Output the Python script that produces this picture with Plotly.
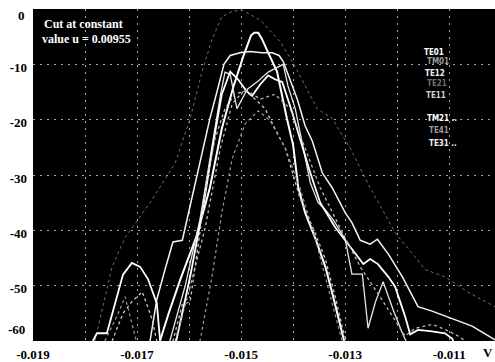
import plotly.graph_objects as go

# Axis ticks
x_tick_vals = [-0.019, -0.018, -0.017, -0.016, -0.015, -0.014, -0.013, -0.012, -0.011, -0.010]
x_tick_text = ["-0.019", "", "-0.017", "", "-0.015", "", "-0.013", "", "-0.011", ""]
y_tick_vals = [0, -10, -20, -30, -40, -50, -60]
y_tick_text = ["", "-10", "-20", "-30", "-40", "-50", ""]
y_top_label = "0"
y_bottom_label = "-60"

# Mode curves (v, dB)
te01_v = [-0.01656, -0.01640, -0.01617, -0.01585, -0.01560, -0.01537, -0.01515, -0.01496, -0.01481,
          -0.01475, -0.01467, -0.01460, -0.01448, -0.01431, -0.01412, -0.01400, -0.01390, -0.01377,
          -0.01358, -0.01338, -0.01323, -0.01310, -0.01302]
te01_db = [-60, -55.2, -48.9, -40.9, -32.3, -21.6, -14.1, -8.6, -4.8,
           -4.3, -4.3, -5.4, -7.9, -11.3, -19.8, -24.6, -32.3, -36.8,
           -41.3, -46.6, -52.0, -57.3, -60]

tm01_v = [-0.01781, -0.01762, -0.01748, -0.01723, -0.01675, -0.01627, -0.01598, -0.01575, -0.01556,
          -0.01537, -0.01517, -0.01498, -0.01463, -0.01425, -0.01396, -0.01354, -0.01325, -0.01290,
          -0.01252, -0.01204, -0.01146, -0.01108, -0.01060, -0.01012]
tm01_db = [-60, -52.0, -46.6, -41.3, -35.0, -27.9, -19.8, -11.3, -5.5,
           -1.4, -0.4, -0.2, -2.0, -5.9, -10.4, -18.0, -19.8, -25.2,
           -32.3, -40.4, -47.1, -48.4, -51.4, -53.8]

te12_v = [-0.01675, -0.01662, -0.01646, -0.01631, -0.01613, -0.01585, -0.01560, -0.01544, -0.01533,
          -0.01521, -0.01502, -0.01483, -0.01460, -0.01440, -0.01427, -0.01419, -0.01406, -0.01392,
          -0.01377, -0.01363, -0.01344, -0.01325, -0.01300, -0.01287, -0.01271, -0.01252, -0.01238,
          -0.01217, -0.01190, -0.01160, -0.01133, -0.01094, -0.01056, -0.01012]
te12_db = [-60, -52.5, -47.0, -42.1, -41.8, -30.2, -19.8, -14.1, -10.0,
           -8.4, -7.9, -7.7, -7.9, -7.9, -8.4, -9.5, -12.7, -16.3,
           -21.1, -23.9, -29.6, -32.3, -36.8, -38.6, -41.8, -42.5, -41.6,
           -44.3, -48.4, -53.8, -54.6, -55.9, -57.3, -59.8]

te21_v = [-0.01637, -0.01608, -0.01579, -0.01554, -0.01540, -0.01531, -0.01521, -0.01508, -0.01488,
          -0.01467, -0.01448, -0.01419, -0.01410, -0.01396, -0.01381, -0.01367, -0.01352, -0.01337,
          -0.01321, -0.01300, -0.01287, -0.01267, -0.01256, -0.01242, -0.01227, -0.01208, -0.01190,
          -0.01183]
te21_db = [-60, -50.2, -38.0, -23.4, -15.7, -11.4, -11.8, -18.0, -14.5,
           -13.0, -11.4, -10.0, -13.9, -18.0, -25.2, -31.4, -35.0, -36.4,
           -38.4, -41.6, -47.9, -47.9, -57.7, -53.0, -49.3, -54.3, -58.6,
           -60]

te11_v = [-0.01785, -0.01777, -0.01758, -0.01748, -0.01727, -0.01710, -0.01694, -0.01679, -0.01662,
          -0.01656, -0.01648, -0.01633, -0.01625, -0.01598, -0.01573, -0.01552, -0.01537, -0.01521,
          -0.01506, -0.01490, -0.01479, -0.01463, -0.01448, -0.01435, -0.01421, -0.01402, -0.01387,
          -0.01367, -0.01348, -0.01319, -0.01290, -0.01265, -0.01252, -0.01237, -0.01217, -0.01204,
          -0.01185, -0.01175, -0.01160, -0.01137, -0.01108, -0.01094, -0.01089]
te11_db = [-60, -58.6, -58.6, -55.2, -48.0, -45.9, -46.6, -48.8, -53.2,
           -59.6, -63.6, -63.6, -60, -48.4, -35.9, -23.4, -15.4, -11.3,
           -12.7, -14.8, -15.7, -13.6, -12.0, -12.7, -13.2, -18.6, -23.4,
           -29.6, -35.0, -39.5, -43.0, -46.1, -45.2, -46.1, -48.4, -50.2,
           -55.5, -58.8, -58.0, -58.2, -58.6, -59.6, -60.9]

tm21_v = [-0.01748, -0.01727, -0.01710, -0.01690, -0.01671, -0.01662, -0.01656, -0.01637, -0.01631,
          -0.01613, -0.01598, -0.01583, -0.01565, -0.01550, -0.01531, -0.01512, -0.01492, -0.01473,
          -0.01454, -0.01435, -0.01415, -0.01387, -0.01358, -0.01338, -0.01319, -0.01306, -0.01298]
tm21_db = [-60, -55.0, -52.9, -51.1, -56.1, -60, -62.7, -62.7, -60,
           -53.4, -52.9, -43.0, -30.5, -23.4, -18.0, -15.4, -14.8, -16.3,
           -18.0, -21.6, -25.2, -34.1, -40.4, -45.2, -52.0, -57.3, -60]

te41_v = [-0.01762, -0.01737, -0.01723, -0.01708, -0.01700, -0.01694, -0.01588, -0.01579, -0.01556,
          -0.01537, -0.01517, -0.01492, -0.01467, -0.01444, -0.01415, -0.01387, -0.01358, -0.01333,
          -0.01313, -0.01306]
te41_db = [-60, -55.2, -52.0, -57.3, -60, -62.7, -62.7, -60, -48.4,
           -36.8, -27.0, -20.7, -18.4, -20.2, -25.2, -32.3, -41.3, -50.2,
           -57.3, -60]

te31_v = [-0.01627, -0.01598, -0.01569, -0.01540, -0.01517, -0.01492, -0.01463, -0.01435, -0.01406,
          -0.01377, -0.01348, -0.01310, -0.01271, -0.01233, -0.01204, -0.01185, -0.01165, -0.01133,
          -0.01108, -0.01083, -0.01069]
te31_db = [-60, -50.2, -39.5, -25.2, -17.1, -14.5, -16.3, -15.4, -18.0,
           -25.2, -32.3, -39.5, -46.6, -52.0, -56.4, -59.1, -57.7, -57.0,
           -57.9, -59.1, -60]

series = [
    ("TE01", te01_v, te01_db, "#ffffff", 2.0, "solid"),
    ("TM01", tm01_v, tm01_db, "#6e6e6e", 1.0, "dot"),
    ("TE12", te12_v, te12_db, "#f4f4f4", 1.5, "solid"),
    ("TE21", te21_v, te21_db, "#e6e6e6", 1.3, "solid"),
    ("TE11", te11_v, te11_db, "#ffffff", 1.8, "solid"),
    ("TM21", tm21_v, tm21_db, "#c8c8c8", 1.3, "dot"),
    ("TE41", te41_v, te41_db, "#9a9a9a", 1.2, "dot"),
    ("TE31", te31_v, te31_db, "#b8b8b8", 1.3, "dot"),
]

# Label text and shade for each mode, listed down the right side
label_text = ["TE01", "TM01", "TE12", "TE21", "TE11", "TM21 ..", "TE41", "TE31 .."]
label_color = ["#ffffff", "#9a9a9a", "#f0f0f0", "#6e6e6e", "#d0d0d0", "#ffffff", "#9a9a9a", "#f0f0f0"]
label_x = [0.842, 0.848, 0.844, 0.848, 0.846, 0.848, 0.853, 0.853]
label_y = [0.869, 0.842, 0.807, 0.777, 0.738, 0.670, 0.634, 0.595]

fig = go.Figure()
for name, xv, yv, color, width, dash in series:
    fig.add_trace(go.Scatter(
        x=xv, y=yv, mode="lines", name=name,
        line=dict(color=color, width=width, dash=dash),
        showlegend=False,
    ))

serif = "Liberation Serif, Times New Roman, serif"
tick_font = dict(family=serif, size=13, color="#000000", weight=700)
grid_style = dict(showgrid=True, gridcolor="#a8a8a8", gridwidth=1, griddash="2px,5px")

fig.update_layout(
    width=495, height=362,
    margin=dict(l=33, r=0, t=9, b=17),
    paper_bgcolor="#ffffff",
    plot_bgcolor="#000000",
    xaxis=dict(
        range=[-0.019, -0.01012],
        tickmode="array", tickvals=x_tick_vals, ticktext=x_tick_text,
        zeroline=False, showline=False, ticks="",
        ticklabelstandoff=4,
        tickfont=tick_font,
        **grid_style,
    ),
    yaxis=dict(
        range=[-60, 0],
        tickmode="array", tickvals=y_tick_vals, ticktext=y_tick_text,
        zeroline=False, showline=False, ticks="",
        ticklabelshift=3, ticklabelstandoff=5,
        tickfont=tick_font,
        **grid_style,
    ),
)

annotations = [
    dict(text=y_top_label, x=-0.013, y=0.979, xref="paper", yref="paper",
         xanchor="right", yanchor="middle", showarrow=False, font=tick_font),
    dict(text=y_bottom_label, x=-0.013, y=0.0, xref="paper", yref="paper",
         xanchor="right", yanchor="bottom", yshift=2, showarrow=False, font=tick_font),
    dict(text="Cut at constant", x=0.019, y=0.955, xref="paper", yref="paper",
         xanchor="left", yanchor="middle", showarrow=False,
         font=dict(family=serif, size=12, color="#ffffff", weight=700)),
    dict(text="value u = 0.00955", x=0.015, y=0.91, xref="paper", yref="paper",
         xanchor="left", yanchor="middle", showarrow=False,
         font=dict(family=serif, size=12, color="#ffffff", weight=700)),
    dict(text="V", x=1.0, y=-0.036, xref="paper", yref="paper",
         xanchor="right", yanchor="middle", showarrow=False,
         font=tick_font),
]
for txt, col, lx, ly in zip(label_text, label_color, label_x, label_y):
    annotations.append(dict(
        text=txt, x=lx, y=ly, xref="paper", yref="paper",
        xanchor="left", yanchor="middle", showarrow=False,
        font=dict(family="DejaVu Sans Condensed, Liberation Sans Narrow, Liberation Sans, sans-serif",
                  size=8, color=col, weight=700),
    ))
fig.update_layout(annotations=annotations)

fig.write_html("out.html")
